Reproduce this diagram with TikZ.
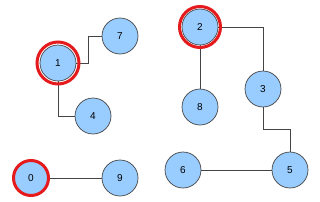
\documentclass[tikz,border=0pt]{standalone}
\usepackage{fontspec}
\setmainfont{Liberation Sans}
\usetikzlibrary{calc}
\definecolor{vfill}{HTML}{99CCFF}
\definecolor{vline}{HTML}{444444}
\definecolor{ringred}{HTML}{E41A1C}
\tikzset{
  vert/.style={circle,draw=vline,fill=vfill,line width=0.7pt,minimum size=36pt,inner sep=0pt,font=\fontsize{10}{12}\selectfont},
  rootvert/.style={vert,draw=ringred,line width=3pt,minimum size=35pt},
  ring/.style={draw=ringred,line width=3pt},
  edge/.style={draw=vline,line width=0.8pt}
}
\begin{document}
\begin{tikzpicture}[x=1pt,y=-1pt]
\useasboundingbox (0,0) rectangle (320,201);
% vertices
\node[vert] (n1) at (58,63) {1};
\node[vert] (n7) at (120,36) {7};
\node[vert] (n4) at (93,116) {4};
\node[vert] (n2) at (200,27) {2};
\node[vert] (n8) at (200,107) {8};
\node[vert] (n3) at (263,89) {3};
\node[vert] (n6) at (183,170) {6};
\node[vert] (n5) at (290,170) {5};
\node[rootvert] (n0) at (31,178) {0};
\node[vert] (n9) at (120,178) {9};
% edges
\draw[edge] (n1.east) -- ++(12.5,0) |- (n7.west);
\draw[edge] (n1.south) |- (n4.west);
\draw[edge] (n2) -- (n8);
\draw[edge] (n2.east) -| (n3.north);
\draw[edge] (n3.south) |- ($(n3.south)!0.5!(n5.north)$) -| (n5.north);
\draw[edge] (n6) -- (n5);
\draw[edge] (n0) -- (n9);
% roots
\draw[ring] (n1.center) circle (21pt);
\draw[ring] (n2.center) circle (20.5pt);
\end{tikzpicture}
\end{document}
